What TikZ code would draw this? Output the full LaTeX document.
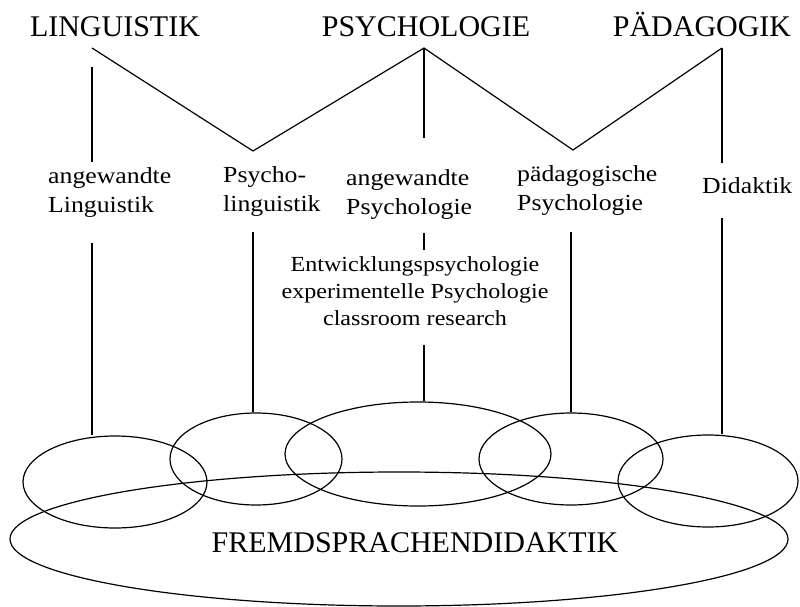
\documentclass[tikz,border=0pt]{standalone}
\usepackage{fontspec}
\setmainfont{Liberation Serif}
\newfontfamily\labelserif[FakeStretch=1.12]{Liberation Serif}
\usetikzlibrary{shapes.geometric}

\begin{document}
\begin{tikzpicture}[x=1pt,y=-1pt,
		field/.style={font=\fontsize{30}{36}\selectfont, inner sep=0pt, anchor=base},
		subfield/.style={font=\labelserif\fontsize{23}{29}\selectfont, inner sep=0pt, align=left, anchor=north west},
		methods/.style={font=\labelserif\fontsize{21.5}{27}\selectfont, inner sep=0pt, align=center, anchor=north},
		area/.style={draw, ellipse, line width=1.2pt, inner sep=0pt},
		link/.style={line width=1.2pt},
		]

		\useasboundingbox (0,0) rectangle (800,607);

		% disciplines
		\node[field] (ling) at (115,37) {LINGUISTIK};
		\node[field] (psy)  at (426,37) {PSYCHOLOGIE};
		\node[field] (paed) at (702,37) {PÄDAGOGIK};

		\coordinate (ling-top) at (92,48);
		\coordinate (ling-stem) at (92,67);
		\coordinate (ling-end) at (92,162);
		\coordinate (dip-a) at (253,151);
		\coordinate (psy-top) at (424,48);
		\coordinate (psy-end) at (424,138);
		\coordinate (dip-b) at (573,150);
		\coordinate (paed-top) at (722,48);
		\coordinate (paed-end) at (722,163);

		\draw[link] (ling-top) -- (dip-a) -- (psy-top) -- (dip-b) -- (paed-top);
		\draw[link] (ling-stem) -- (ling-end);
		\draw[link] (psy-top) -- (psy-end);
		\draw[link] (paed-top) -- (paed-end);

		% sub fields
		\node[subfield] (angling) at (48,167)  {angewandte\\Linguistik};
		\node[subfield] (psyling) at (223,166) {Psycho-\\linguistik};
		\node[subfield] (angpsy)  at (346,169) {angewandte\\Psychologie};
		\node[subfield] (paedpsy) at (517,165) {pädagogische\\Psychologie};
		\node[subfield, anchor=base west] (didaktik) at (702,193) {Didaktik};
		\node[methods] (block) at (415,256) {Entwicklungspsychologie\\experimentelle Psychologie\\classroom research};

		% circles
		\node[area, minimum width=778, minimum height=134] (fsd) at (399,539) {};
		\node[area, minimum width=184, minimum height=92]  (e1)  at (115,482) {};
		\node[area, minimum width=172, minimum height=92]  (e2)  at (256,459) {};
		\node[area, minimum width=266, minimum height=104] (e3)  at (418,454) {};
		\node[area, minimum width=184, minimum height=92]  (e4)  at (571,459) {};
		\node[area, minimum width=180, minimum height=92]  (e5)  at (708,481) {};
		\node[field] (fsdtext) at (415,552) {FREMDSPRACHENDIDAKTIK};

		\coordinate (foot-a) at (92,243);
		\coordinate (foot-b) at (253,232);
		\coordinate (foot-c) at (424,233);
		\coordinate (tick-c) at (424,250);
		\coordinate (foot-d) at (424,345);
		\coordinate (foot-e) at (571,232);
		\coordinate (foot-f) at (722,218);

		\draw[link] (foot-a) -- (foot-a |- e1.north);
		\draw[link] (foot-b) -- (foot-b |- e2.north);
		\draw[link] (foot-c) -- (tick-c);
		\draw[link] (foot-d) -- (foot-d |- e3.north);
		\draw[link] (foot-e) -- (foot-e |- e4.north);
		\draw[link] (foot-f) -- (foot-f |- e5.north);

	\end{tikzpicture}
\end{document}
